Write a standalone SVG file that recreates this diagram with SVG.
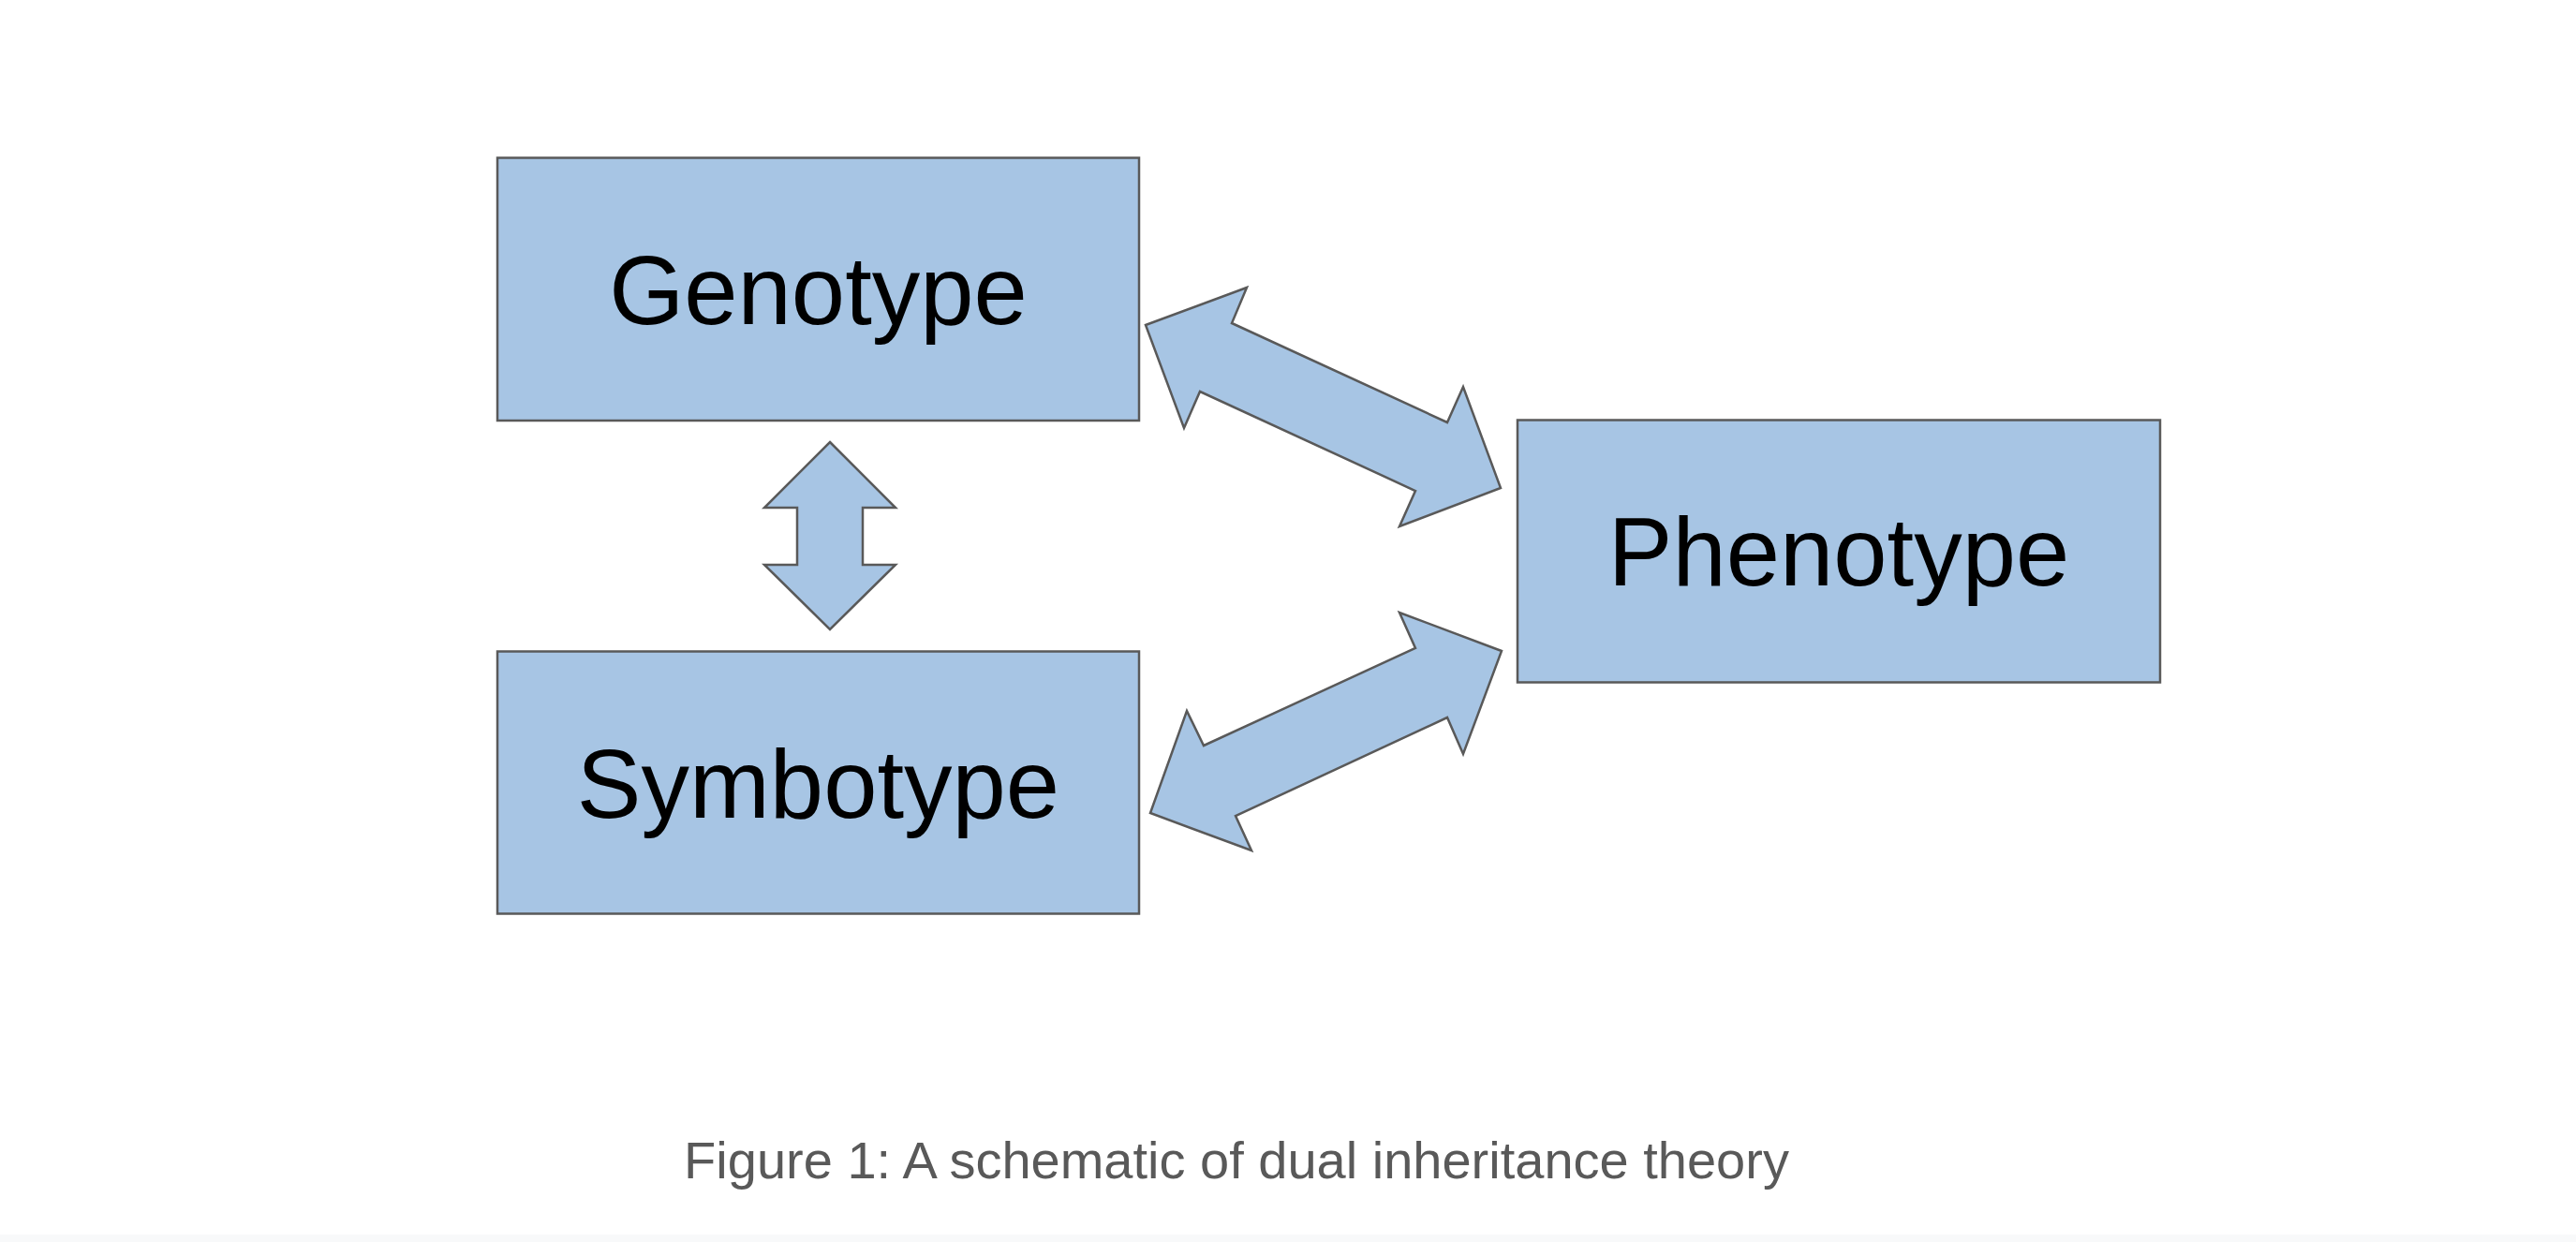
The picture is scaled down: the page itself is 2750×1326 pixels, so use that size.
<svg xmlns="http://www.w3.org/2000/svg" width="2750" height="1326" viewBox="0 0 2750 1326">
<style>
.box{fill:#a7c5e4;stroke:#595959;stroke-width:2.5}
.arrow{fill:#a7c5e4;stroke:#595959;stroke-width:2.5;stroke-linejoin:miter}
.label{font-family:"Liberation Sans",Arial,sans-serif;font-size:103px;fill:#000;text-anchor:middle}
.caption{font-family:"Liberation Sans",Arial,sans-serif;font-size:56px;fill:#595959;text-anchor:middle}
</style>
<rect x="0" y="0" width="2750" height="1326" fill="#ffffff"/>
<rect x="0" y="1318" width="2750" height="8" fill="#f8f9fa"/>
<g id="connectors">
<polygon class="arrow" points="886,472 956,542 921,542 921,603 956,603 886,672 816,603 851,603 851,542 816,542"/>
<polygon class="arrow" points="1223,347 1331,307 1315,345 1545,451 1562,413 1602,521 1494,562 1511,524 1281,418 1264,457"/>
<polygon class="arrow" points="1603,695 1494,654 1511,692 1285,796 1267,759 1228,868 1336,908 1319,871 1545,766 1562,805"/>
</g>
<g id="genotype">
<rect class="box" x="531" y="168.5" width="685" height="280.5"/>
<text class="label" x="873.5" y="346">Genotype</text>
</g>
<g id="symbotype">
<rect class="box" x="531" y="695.5" width="685" height="280"/>
<text class="label" x="873.5" y="873">Symbotype</text>
</g>
<g id="phenotype">
<rect class="box" x="1620" y="448.5" width="686" height="280"/>
<text class="label" x="1963" y="625">Phenotype</text>
</g>
<text class="caption" x="1320" y="1258">Figure 1: A schematic of dual inheritance theory</text>
</svg>
